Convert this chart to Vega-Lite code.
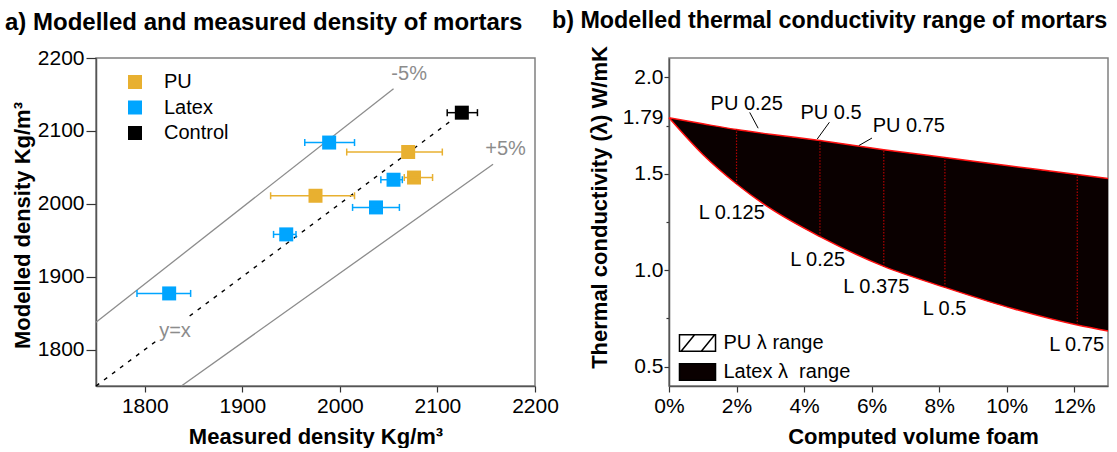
{
  "$schema": "https://vega.github.io/schema/vega-lite/v6.json",
  "padding": {"left": 4, "top": 8, "right": 0, "bottom": 0},
  "background": "white",
  "config": {
    "font": "Liberation Sans",
    "view": {"stroke": "#808080", "strokeWidth": 1.5},
    "axis": {
      "labelFont": "Liberation Sans", "labelFontSize": 21, "labelColor": "#000", "labelFlush": false,
      "titleFont": "Liberation Sans", "titleFontSize": 22, "titleFontWeight": "bold", "titleColor": "#000",
      "grid": false, "domainColor": "#555", "domainWidth": 1.5, "tickColor": "#333", "tickWidth": 1.2,
      "tickSize": 5, "labelPadding": 3
    },
    "legend": {"labelFont": "Liberation Sans", "labelFontSize": 20, "labelColor": "#000", "padding": 0},
    "title": {"font": "Liberation Sans", "fontSize": 24, "fontWeight": "bold", "color": "#000", "anchor": "start", "frame": "group", "baseline": "alphabetic"}
  },
  "hconcat": [
    {
      "width": 439, "height": 328,
      "title": {"text": "a) Modelled and measured density of mortars", "dx": -91, "offset": 12},
      "layer": [
        {
          "data": {"values": [
            {"s": "u", "x": 1750, "y": 1837.5}, {"s": "u", "x": 2055, "y": 2157.75},
            {"s": "l", "x": 1837.5, "y": 1750}, {"s": "l", "x": 2157, "y": 2054.3}
          ]},
          "mark": {"type": "line", "color": "#8c8c8c", "strokeWidth": 1.3},
          "encoding": {
            "x": {"field": "x", "type": "quantitative", "scale": {"domain": [1750, 2200], "nice": false},
                  "axis": {"title": "Measured density Kg/m³", "values": [1800, 1900, 2000, 2100, 2200], "format": "d", "tickSize": 6, "titlePadding": 10}},
            "y": {"field": "y", "type": "quantitative", "scale": {"domain": [1750, 2200], "nice": false},
                  "axis": {"title": "Modelled density Kg/m³", "values": [1800, 1900, 2000, 2100, 2200], "format": "d", "tickSize": 10, "labelPadding": 2, "titlePadding": 3, "titleY": 167}},
            "detail": {"field": "s"}
          }
        },
        {
          "data": {"values": [
            {"s": "d1", "x": 1750, "y": 1750}, {"s": "d1", "x": 1812, "y": 1812},
            {"s": "d2", "x": 1846, "y": 1846}, {"s": "d2", "x": 2115, "y": 2115}
          ]},
          "mark": {"type": "line", "color": "#000", "strokeWidth": 1.4, "strokeDash": [4, 6]},
          "encoding": {
            "x": {"field": "x", "type": "quantitative"},
            "y": {"field": "y", "type": "quantitative"},
            "detail": {"field": "s"}
          }
        },
        {
          "data": {"name": "pts"},
          "mark": {"type": "point", "shape": "square", "filled": true, "size": 196, "opacity": 1, "strokeWidth": 0},
          "encoding": {
            "x": {"field": "mx", "type": "quantitative"},
            "y": {"field": "my", "type": "quantitative"},
            "color": {"field": "g", "type": "nominal", "scale": {"domain": ["PU", "Latex", "Control"], "range": ["#E8B030", "#00A5FF", "#000000"]},
                     "legend": {"title": null, "orient": "none", "legendX": 29, "legendY": 14, "rowPadding": 5.5, "labelOffset": 19, "symbolType": "square", "symbolSize": 196, "symbolStrokeWidth": 0, "symbolOpacity": 1}}
          }
        },
        {
          "data": {"name": "pts"},
          "mark": {"type": "rule", "strokeWidth": 1.5},
          "encoding": {
            "x": {"field": "lo", "type": "quantitative"},
            "x2": {"field": "hi"},
            "y": {"field": "my", "type": "quantitative"},
            "color": {"field": "g", "type": "nominal"}
          }
        },
        {
          "data": {"name": "pts"},
          "mark": {"type": "tick", "orient": "vertical", "size": 7, "thickness": 1.5, "opacity": 1},
          "encoding": {
            "x": {"field": "lo", "type": "quantitative"},
            "y": {"field": "my", "type": "quantitative"},
            "color": {"field": "g", "type": "nominal"}
          }
        },
        {
          "data": {"name": "pts"},
          "mark": {"type": "tick", "orient": "vertical", "size": 7, "thickness": 1.5, "opacity": 1},
          "encoding": {
            "x": {"field": "hi", "type": "quantitative"},
            "y": {"field": "my", "type": "quantitative"},
            "color": {"field": "g", "type": "nominal"}
          }
        },
        {
          "data": {"values": [
            {"t": "-5%", "x": 2071, "y": 2178.5},
            {"t": "+5%", "x": 2169.8, "y": 2075.7},
            {"t": "y=x", "x": 1831, "y": 1825.6}
          ]},
          "mark": {"type": "text", "fontSize": 20, "color": "#8c8c8c", "align": "center", "baseline": "middle"},
          "encoding": {
            "x": {"field": "x", "type": "quantitative"},
            "y": {"field": "y", "type": "quantitative"},
            "text": {"field": "t"}
          }
        }
      ]
    },
    {
      "width": 439, "height": 328,
      "title": {"text": "b) Modelled thermal conductivity range of mortars", "dx": -117, "offset": 12, "fontSize": 23.3},
      "layer": [
        {
          "data": {"name": "curve"},
          "mark": {"type": "area", "interpolate": "monotone", "fill": "#0a0000", "opacity": 1},
          "encoding": {
            "x": {"field": "x", "type": "quantitative", "scale": {"domain": [0, 0.13], "nice": false},
                  "axis": {"title": "Computed volume foam", "values": [0, 0.02, 0.04, 0.06, 0.08, 0.1, 0.12], "format": ".0%", "tickSize": 6, "titlePadding": 10, "titleX": 244}},
            "y": {"field": "up", "type": "quantitative", "scale": {"domain": [0.4, 2.1], "nice": false},
                  "axis": {"title": "Thermal conductivity (λ) W/mK", "values": [0.5, 0.75, 1, 1.25, 1.5, 1.75, 1.79, 2.0],
                           "labelExpr": "datum.value == 1.79 ? '1.79' : (datum.value == 0.75 || datum.value == 1.25 || datum.value == 1.75) ? '' : format(datum.value, '.1f')",
                           "tickSize": {"condition": {"test": "datum.value == 0.75 || datum.value == 1.25 || datum.value == 1.75", "value": 3}, "value": 5},
                           "tickOpacity": {"condition": {"test": "datum.value == 1.79", "value": 0}, "value": 1},
                           "labelPadding": 1, "titlePadding": 11, "titleY": 149}},
            "y2": {"field": "lo"}
          }
        },
        {
          "data": {"name": "curve"},
          "mark": {"type": "line", "interpolate": "monotone", "color": "#ff1010", "strokeWidth": 1.5},
          "encoding": {
            "x": {"field": "x", "type": "quantitative"},
            "y": {"field": "up", "type": "quantitative"}
          }
        },
        {
          "data": {"name": "curve"},
          "mark": {"type": "line", "interpolate": "monotone", "color": "#ff1010", "strokeWidth": 1.5},
          "encoding": {
            "x": {"field": "x", "type": "quantitative"},
            "y": {"field": "lo", "type": "quantitative"}
          }
        },
        {
          "data": {"values": [
            {"x": 0.02, "lo": 1.447, "hi": 1.729},
            {"x": 0.0447, "lo": 1.174, "hi": 1.672},
            {"x": 0.0636, "lo": 1.02, "hi": 1.625},
            {"x": 0.0817, "lo": 0.911, "hi": 1.584},
            {"x": 0.1209, "lo": 0.716, "hi": 1.496}
          ]},
          "mark": {"type": "rule", "color": "#b00000", "strokeWidth": 1.2, "strokeDash": [1.5, 1.5]},
          "encoding": {
            "x": {"field": "x", "type": "quantitative"},
            "y": {"field": "lo", "type": "quantitative"},
            "y2": {"field": "hi"}
          }
        },
        {
          "data": {"values": [
            {"x": 0.0239, "y": 1.818, "x2": 0.0264, "y2": 1.736},
            {"x": 0.0475, "y": 1.767, "x2": 0.0439, "y2": 1.68},
            {"x": 0.0601, "y": 1.685, "x2": 0.0562, "y2": 1.646}
          ]},
          "mark": {"type": "rule", "color": "#000", "strokeWidth": 1},
          "encoding": {
            "x": {"field": "x", "type": "quantitative"},
            "y": {"field": "y", "type": "quantitative"},
            "x2": {"field": "x2"},
            "y2": {"field": "y2"}
          }
        },
        {
          "data": {"values": [
            {"t": "PU 0.25", "x": 0.023, "y": 1.862},
            {"t": "PU 0.5", "x": 0.048, "y": 1.815},
            {"t": "PU 0.75", "x": 0.071, "y": 1.746},
            {"t": "L 0.125", "x": 0.0186, "y": 1.295},
            {"t": "L 0.25", "x": 0.044, "y": 1.055},
            {"t": "L 0.375", "x": 0.0614, "y": 0.911},
            {"t": "L 0.5", "x": 0.0816, "y": 0.799},
            {"t": "L 0.75", "x": 0.1207, "y": 0.612}
          ]},
          "mark": {"type": "text", "fontSize": 20, "color": "#000", "align": "center", "baseline": "middle"},
          "encoding": {
            "x": {"field": "x", "type": "quantitative"},
            "y": {"field": "y", "type": "quantitative"},
            "text": {"field": "t"}
          }
        },
        {
          "data": {"values": [
            {"s": "PU λ range", "x": null, "y": null},
            {"s": "Latex λ\u00a0 range", "x": null, "y": null}
          ]},
          "mark": {"type": "point", "filled": true, "size": 289, "opacity": 1, "stroke": "#000", "strokeWidth": 1},
          "encoding": {
            "x": {"field": "x", "type": "quantitative"},
            "y": {"field": "y", "type": "quantitative"},
            "fill": {"field": "s", "type": "nominal", "scale": {"domain": ["PU λ range", "Latex λ\u00a0 range"], "range": ["#ffffff", "#0a0000"]},
                     "legend": {"title": null, "orient": "none", "legendX": 591.5, "legendY": 275, "rowPadding": 5, "labelOffset": 16, "symbolSize": 289,
                                "encode": {"symbols": {"update": {"stroke": {"value": "#000"}, "strokeWidth": {"value": 1}, "opacity": {"value": 1}, "fillOpacity": {"value": 1}}}}}},
            "shape": {"field": "s", "type": "nominal", "scale": {"domain": ["PU λ range", "Latex λ\u00a0 range"], "range": ["M-2.12,-0.98H2.12V0.98H-2.12Z M-1.93,0.98L-0.34,-0.98 M0.45,0.98L2.03,-0.98", "M-2.12,-0.98H2.12V0.98H-2.12Z"]},
                      "legend": {"title": null, "orient": "none", "legendX": 591.5, "legendY": 275, "rowPadding": 5, "labelOffset": 16, "symbolSize": 289,
                                 "encode": {"symbols": {"update": {"stroke": {"value": "#000"}, "strokeWidth": {"value": 1}, "opacity": {"value": 1}, "fillOpacity": {"value": 1}}}}}}
          }
        }
      ]
    }
  ],
  "spacing": 134,
  "bounds": "flush",
  "datasets": {
    "pts": [
      {"g": "Control", "mx": 2125, "my": 2125, "lo": 2110, "hi": 2141},
      {"g": "Latex", "mx": 1989, "my": 2084, "lo": 1964, "hi": 2015},
      {"g": "PU", "mx": 2070, "my": 2071, "lo": 2007, "hi": 2105},
      {"g": "PU", "mx": 2076, "my": 2036, "lo": 2066, "hi": 2095},
      {"g": "Latex", "mx": 2055, "my": 2033, "lo": 2042, "hi": 2064},
      {"g": "PU", "mx": 1975, "my": 2011, "lo": 1929, "hi": 2015},
      {"g": "Latex", "mx": 2037, "my": 1995, "lo": 2013, "hi": 2061},
      {"g": "Latex", "mx": 1945, "my": 1958, "lo": 1932, "hi": 1955},
      {"g": "Latex", "mx": 1825, "my": 1877, "lo": 1792, "hi": 1847}
    ],
    "curve": [
      {"x": 0, "up": 1.79, "lo": 1.79},
      {"x": 0.01, "up": 1.759, "lo": 1.6},
      {"x": 0.02, "up": 1.729, "lo": 1.447},
      {"x": 0.03, "up": 1.705, "lo": 1.32},
      {"x": 0.0447, "up": 1.672, "lo": 1.174},
      {"x": 0.0636, "up": 1.625, "lo": 1.02},
      {"x": 0.0817, "up": 1.584, "lo": 0.911},
      {"x": 0.1, "up": 1.543, "lo": 0.81},
      {"x": 0.1209, "up": 1.496, "lo": 0.716},
      {"x": 0.13, "up": 1.476, "lo": 0.685}
    ]
  }
}
